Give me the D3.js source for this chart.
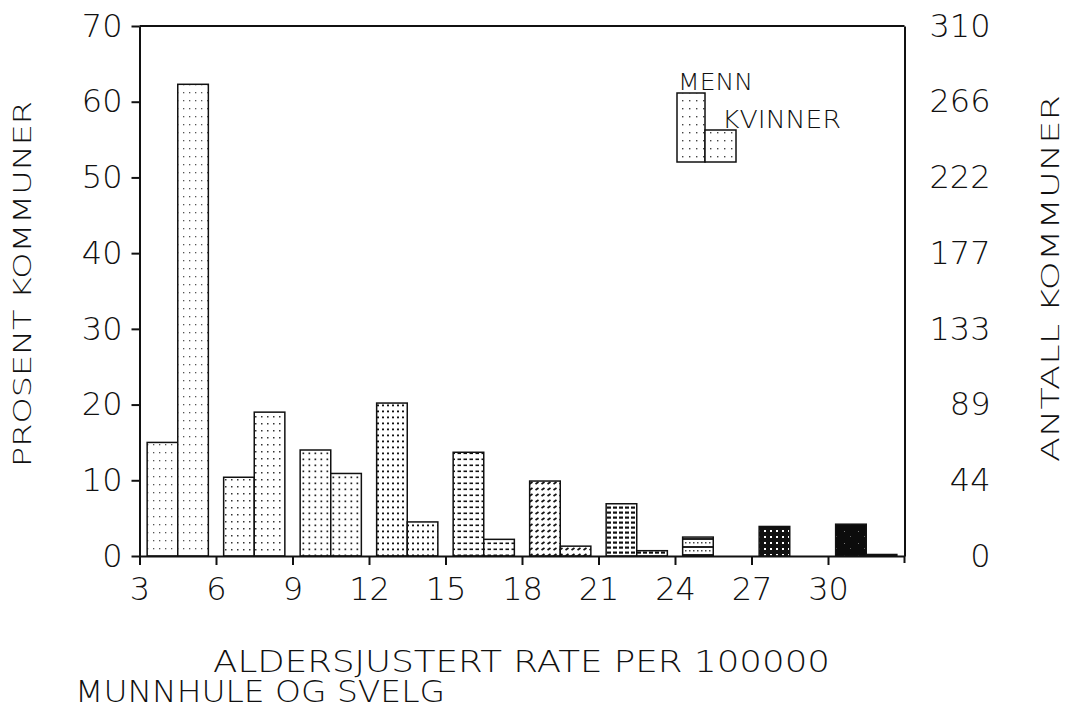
<!DOCTYPE html>
<html>
<head>
<meta charset="utf-8">
<script src="https://cdn.jsdelivr.net/npm/d3@7"></script>
<style>
  body { margin: 0; background: #fff; }
  svg text { font-family: "DejaVu Sans", "Liberation Sans", sans-serif; font-weight: 200; fill: #111; }
</style>
</head>
<body>
<svg id="chart" width="1072" height="711"></svg>
<script>
// Bin starts (rate per 100000) and percent of municipalities per bin
const binStarts = [3, 6, 9, 12, 15, 18, 21, 24, 27, 30];
const menn    = [15.0, 10.4, 14.0, 20.2, 13.7, 9.9, 6.9, 2.5, 3.9, 4.2];
const kvinner = [62.3, 19.0, 10.9, 4.5, 2.2, 1.3, 0.7, 0, 0, 0.2];

const xTicks = [3, 6, 9, 12, 15, 18, 21, 24, 27, 30];
const yTicks = [0, 10, 20, 30, 40, 50, 60, 70];
const rightTickLabels = ["0", "44", "89", "133", "177", "222", "266", "310"];

const svg = d3.select("#chart");
const plotLeft = 139.5, plotRight = 904.5, plotTop = 26, plotBottom = 556;

const x = d3.scaleLinear().domain([3, 33]).range([plotLeft, plotRight]);
const y = d3.scaleLinear().domain([0, 70]).range([plotBottom, plotTop]);

// Fill patterns: one per bin, getting darker towards the higher rates
const defs = svg.append("defs");
function pat(id, w, h, bg, draw) {
  const p = defs.append("pattern").attr("id", id).attr("patternUnits", "userSpaceOnUse")
    .attr("width", w).attr("height", h);
  p.append("rect").attr("width", w).attr("height", h).attr("fill", bg);
  draw(p);
}
const dot = (p, cx, cy, w, h, c) => p.append("rect").attr("x", cx).attr("y", cy).attr("width", w).attr("height", h).attr("fill", c);

pat("p0", 6, 8, "#fff", p => dot(p, 3, 4, 1.3, 1.3, "#555"));
pat("p1", 6, 7, "#fff", p => dot(p, 3, 3, 1.5, 1.5, "#333"));
pat("p2", 6, 6, "#fff", p => dot(p, 2.5, 2.5, 1.7, 1.7, "#222"));
pat("p3", 5, 6, "#fff", p => dot(p, 2, 2.5, 2, 1.8, "#111"));
pat("p4", 6, 6, "#fff", p => dot(p, 1.5, 2.5, 3.5, 1.6, "#111"));
pat("p5", 6, 6, "#fff", p => p.append("path").attr("d", "M1.5,4 L4.5,2").attr("stroke", "#111").attr("stroke-width", 1.8));
pat("p6", 6, 5, "#fff", p => dot(p, 1, 1.5, 4, 2.2, "#111"));
pat("p7", 8, 8, "#fff", p => {
  dot(p, 0, 2, 8, 2, "#222");
  dot(p, 1, 6, 1.5, 1.5, "#444");
  dot(p, 5, 6, 1.5, 1.5, "#444");
});
pat("p8", 6, 6, "#111", p => dot(p, 2, 2, 2, 2, "#fff"));
pat("p9", 14, 12, "#0c0c0c", p => { dot(p, 4, 3, 1, 1, "#777"); dot(p, 10, 8, 1, 1, "#666"); });
pat("pl", 7, 8, "#fff", p => dot(p, 3, 4, 1.4, 1.4, "#444"));

// Bars: men on the left half of each bin, women on the right half
const bars = [];
binStarts.forEach((s, i) => {
  bars.push({ x0: s + 0.3, x1: s + 1.5, v: menn[i], bin: i });
  bars.push({ x0: s + 1.5, x1: s + 2.7, v: kvinner[i], bin: i });
});

svg.append("g").selectAll("rect").data(bars.filter(d => d.v > 0)).join("rect")
  .attr("x", d => x(d.x0))
  .attr("width", d => x(d.x1) - x(d.x0))
  .attr("y", d => y(d.v))
  .attr("height", d => y(0) - y(d.v))
  .attr("fill", d => `url(#p${d.bin})`)
  .attr("stroke", "#111")
  .attr("stroke-width", 1.5);

// Axes
const axisStyle = g => {
  g.selectAll("path.domain").attr("stroke", "#111").attr("stroke-width", 2);
  g.selectAll(".tick line").attr("stroke", "#111").attr("stroke-width", 2);
  g.selectAll(".tick text").attr("font-size", 32).attr("fill", "#111")
    .attr("font-family", "\"DejaVu Sans\", sans-serif").attr("font-weight", 200);
};

svg.append("g").attr("transform", `translate(${plotLeft},0)`)
  .call(d3.axisLeft(y).tickValues(yTicks).tickSize(8).tickSizeOuter(0).tickPadding(9).tickFormat(d3.format("d")))
  .call(axisStyle);

svg.append("g").attr("transform", `translate(0,${plotBottom})`)
  .call(d3.axisBottom(x).tickValues(xTicks).tickSize(9).tickSizeOuter(0).tickPadding(12).tickFormat(d3.format("d")))
  .call(axisStyle);

const rAxis = svg.append("g").attr("transform", `translate(${plotRight},0)`)
  .call(d3.axisRight(y).tickValues(yTicks).tickSize(0).tickSizeOuter(0).tickFormat((d, i) => rightTickLabels[i]))
  .call(axisStyle);
rAxis.selectAll(".tick text").attr("text-anchor", "end").attr("x", 86);

// Frame: top edge and short extension of the right edge below the baseline
svg.append("line").attr("x1", plotLeft).attr("x2", plotRight).attr("y1", plotTop).attr("y2", plotTop)
  .attr("stroke", "#111").attr("stroke-width", 2);
svg.append("line").attr("x1", plotRight).attr("x2", plotRight).attr("y1", plotBottom).attr("y2", plotBottom + 7)
  .attr("stroke", "#111").attr("stroke-width", 2);

// Axis titles
svg.append("text").attr("x", 213).attr("y", 672).attr("font-size", 31)
  .attr("textLength", 617).attr("lengthAdjust", "spacingAndGlyphs")
  .text("ALDERSJUSTERT RATE PER 100000");
svg.append("text").attr("x", 75).attr("y", 702).attr("font-size", 30)
  .attr("textLength", 370).attr("lengthAdjust", "spacingAndGlyphs")
  .text("MUNNHULE OG SVELG");
svg.append("text").attr("transform", "translate(31,467) rotate(-90)").attr("font-size", 24)
  .attr("textLength", 366).attr("lengthAdjust", "spacingAndGlyphs")
  .text("PROSENT KOMMUNER");
svg.append("text").attr("transform", "translate(1059,462) rotate(-90)").attr("font-size", 25)
  .attr("textLength", 367).attr("lengthAdjust", "spacingAndGlyphs")
  .text("ANTALL KOMMUNER");

// Legend
const lg = svg.append("g");
lg.append("rect").attr("x", 677).attr("y", 93).attr("width", 28).attr("height", 69)
  .attr("fill", "url(#pl)").attr("stroke", "#111").attr("stroke-width", 1.5);
lg.append("rect").attr("x", 705).attr("y", 130).attr("width", 31).attr("height", 32)
  .attr("fill", "url(#pl)").attr("stroke", "#111").attr("stroke-width", 1.5);
lg.append("text").attr("x", 678).attr("y", 90).attr("font-size", 23)
  .attr("textLength", 75).attr("lengthAdjust", "spacingAndGlyphs").text("MENN");
lg.append("text").attr("x", 722).attr("y", 128).attr("font-size", 24)
  .attr("textLength", 119).attr("lengthAdjust", "spacingAndGlyphs").text("KVINNER");
</script>
</body>
</html>
